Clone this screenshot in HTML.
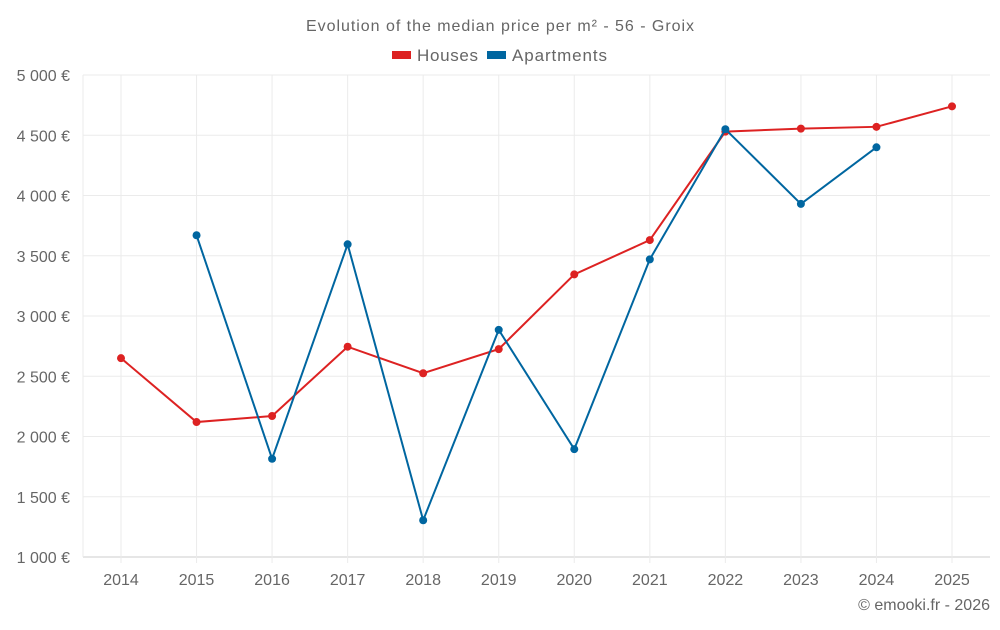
<!DOCTYPE html>
<html><head><meta charset="utf-8"><style>
body{margin:0;background:#fff;font-family:"Liberation Sans",sans-serif;}
svg text{font-family:"Liberation Sans",sans-serif;fill:#666;}
</style></head><body>
<svg id="chart" width="1000" height="625">
<text x="500" y="31" text-anchor="middle" font-size="16" textLength="388">Evolution of the median price per m² - 56 - Groix</text>
<g>
<rect x="392" y="51" width="19" height="8" fill="#dd2222"/>
<text x="417" y="61" font-size="17" textLength="61">Houses</text>
<rect x="487" y="51" width="19" height="8" fill="#0066a0"/>
<text x="512" y="61" font-size="17" textLength="95">Apartments</text>
</g>
<g id="grid"></g><g id="axes"></g><g id="series"></g>
<text x="990" y="610" text-anchor="end" font-size="16">© emooki.fr - 2026</text>
</svg>
<script>
const years=[2014,2015,2016,2017,2018,2019,2020,2021,2022,2023,2024,2025];
const houses=[2650,2120,2170,2745,2525,2725,3345,3630,4530,4555,4570,4740];
const apartments=[null,3670,1815,3595,1305,2885,1895,3470,4550,3930,4400,null];
const yTicks=[1000,1500,2000,2500,3000,3500,4000,4500,5000];
const yLabels=["1 000 €","1 500 €","2 000 €","2 500 €","3 000 €","3 500 €","4 000 €","4 500 €","5 000 €"];
const L=83,R=990,T=75,B=557,NS="http://www.w3.org/2000/svg";
const x=i=>121+i*(952-121)/(years.length-1);
const y=v=>B-(v-1000)/4000*(B-T);
function mk(tag,at,parent){const e=document.createElementNS(NS,tag);for(const k in at)e.setAttribute(k,at[k]);document.getElementById(parent).appendChild(e);return e;}
yTicks.forEach((t,i)=>{
 const l=mk('line',{x1:L,x2:R,y1:y(t),y2:y(t),stroke:i==0?'#ccc':'#ebebeb'},'grid');
 
 
 const tx=mk('text',{x:70,y:y(t)+6,'text-anchor':'end','font-size':16},'axes');tx.textContent=yLabels[i];
 
 
});
mk('line',{x1:L,x2:L,y1:T,y2:B,stroke:'#ebebeb'},'grid');
years.forEach((yr,i)=>{
 const l=mk('line',{x1:x(i),x2:x(i),y1:T,y2:B+6,stroke:'#ebebeb'},'grid');
 
 
 const tx=mk('text',{x:x(i),y:585,'text-anchor':'middle','font-size':16},'axes');tx.textContent=yr;
 
 
});
function draw(data,color,name){
 let d='';data.forEach((v,i)=>{if(v==null)return;d+=(d?'L':'M')+x(i)+','+y(v);});
 const p=mk('path',{d:d,fill:'none',stroke:color,'stroke-width':2},'series');
 
 
 data.forEach((v,i)=>{if(v==null)return;
  const c=mk('circle',{cx:x(i),cy:y(v),r:4,fill:color},'series');
  
  
 });
}
draw(houses,'#dd2222','houses');
draw(apartments,'#0066a0','apartments');
</script>
</body></html>
